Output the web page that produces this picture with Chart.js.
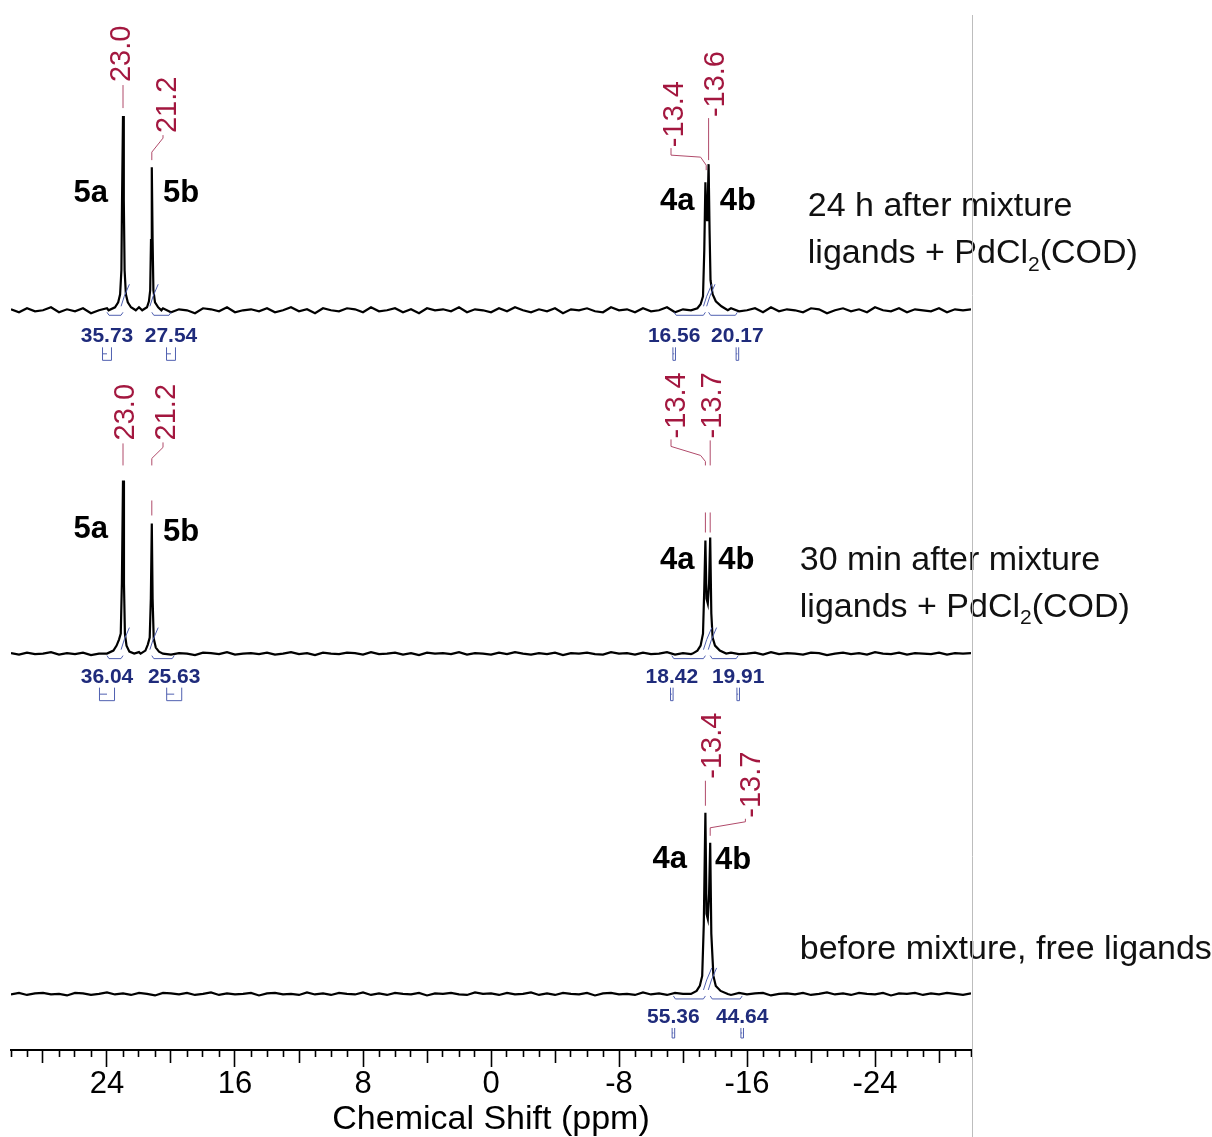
<!DOCTYPE html>
<html>
<head>
<meta charset="utf-8">
<script src="https://cdn.jsdelivr.net/npm/chart.js@4.4.1/dist/chart.umd.min.js"></script>
<style>
html,body{margin:0;padding:0;background:#fff;}
canvas{display:block;}
</style>
</head>
<body>
<canvas id="c" width="1212" height="1137"></canvas>
<script>
// ---------------- DATA ----------------
// x axis (ppm), reversed as in NMR
const axisMin = -30;
const axisMax = 30;
const tickLabelsPpm = [24, 16, 8, 0, -8, -16, -24];
const axisTitle = 'Chemical Shift (ppm)';

// peak chemical shifts (ppm) for each trace
const shiftsTop = [23.0, 21.2, -13.4, -13.6];
const shiftsMid = [23.0, 21.2, -13.4, -13.7];
const shiftsBot = [-13.4, -13.7];

// integrals for each trace (same order as shifts)
const integralsTop = [35.73, 27.54, 16.56, 20.17];
const integralsMid = [36.04, 25.63, 18.42, 19.91];
const integralsBot = [55.36, 44.64];

// compound labels
const compoundsTop = ['5a', '5b', '4a', '4b'];
const compoundsMid = ['5a', '5b', '4a', '4b'];
const compoundsBot = ['4a', '4b'];

// trace captions
const captionTop = ['24 h after mixture', 'ligands + PdCl_2(COD)'];
const captionMid = ['30 min after mixture', 'ligands + PdCl_2(COD)'];
const captionBot = ['before mixture, free ligands'];

// peak line shapes: [ppm, intensity above baseline]
const peak5Top_a = [[23.9,0],[23.5,3],[23.3,8],[23.18,16],[23.1,40],[23.06,110],[23.0,194],[22.95,110],[22.9,40],[22.82,16],[22.7,8],[22.5,3],[22.2,0]];
const peak5Top_b = [[21.8,0],[21.5,3],[21.38,9],[21.3,20],[21.25,70],[21.2,143],[21.15,70],[21.1,20],[21.0,8],[20.8,3],[20.6,0]];
const peak4Top = [[-12.5,0],[-12.9,2],[-13.1,6],[-13.25,14],[-13.33,60],[-13.4,128],[-13.45,95],[-13.5,90],[-13.55,110],[-13.6,146],[-13.66,80],[-13.72,30],[-13.85,16],[-14.05,9],[-14.4,4],[-14.8,0]];

const peak5Mid_a = [[24.0,0],[23.6,3],[23.4,8],[23.25,14],[23.14,20],[23.07,70],[23.0,173],[22.94,70],[22.88,20],[22.78,8],[22.6,2],[22.3,0]];
const peak5Mid_b = [[21.9,0],[21.6,3],[21.45,9],[21.33,16],[21.26,55],[21.2,130],[21.15,55],[21.08,15],[20.95,6],[20.75,2],[20.5,0]];
const peak4Mid = [[-12.6,0],[-12.9,3],[-13.1,8],[-13.25,20],[-13.33,65],[-13.4,113],[-13.47,55],[-13.55,50],[-13.63,70],[-13.7,116],[-13.77,40],[-13.85,16],[-14.0,8],[-14.3,3],[-14.7,0]];

const peak4Bot = [[-12.5,0],[-12.85,3],[-13.05,8],[-13.2,18],[-13.3,70],[-13.4,181],[-13.47,80],[-13.55,75],[-13.63,100],[-13.7,151],[-13.77,60],[-13.9,18],[-14.05,8],[-14.35,3],[-14.8,0]];

// baseline noise, sampled evenly from +30 to -30 ppm
const noiseTop = [
 1,-2, 2,-1, 0, 3,-2, 1,-1, 2,
-3, 0, 2,-1, 1,-2, 3, 0,-1, 2,
-2, 1, 0,-3, 2, 1,-1, 3,-2, 0,
 1,-1, 2,-2, 0, 3,-1, 1,-3, 2,
 0,-1, 2, 1,-2, 3,-1, 0, 2,-2,
 1,-3, 2, 0, 1,-1, 3,-2, 1, 0,
-2, 2,-1, 3, 0,-2, 1,-1, 2,-3,
 1, 0, 2,-1,-2, 3, 0, 1,-2, 2,
-1, 0, 3,-2, 1,-1, 2, 0,-3, 1,
 2,-1, 0, 2,-2, 3,-1, 1, 0,-2,
 2, 1,-3, 0, 2,-1, 1,-2, 3, 0,
-1, 2,-2, 1, 0,-1, 2,-2, 1, 0,
 1];
const noiseMid = [
 0.5,-1, 1,-0.5, 0, 1.5,-1, 0.5,-0.5, 1,
-1.5, 0, 1,-0.5, 0.5,-1, 1.5, 0,-0.5, 1,
-1, 0.5, 0,-1.5, 1, 0.5,-0.5, 1.5,-1, 0,
 0.5,-0.5, 1,-1, 0, 1.5,-0.5, 0.5,-1.5, 1,
 0,-0.5, 1, 0.5,-1, 1.5,-0.5, 0, 1,-1,
 0.5,-1.5, 1, 0, 0.5,-0.5, 1.5,-1, 0.5, 0,
-1, 1,-0.5, 1.5, 0,-1, 0.5,-0.5, 1,-1.5,
 0.5, 0, 1,-0.5,-1, 1.5, 0, 0.5,-1, 1,
-0.5, 0, 1.5,-1, 0.5,-0.5, 1, 0,-1.5, 0.5,
 1,-0.5, 0, 1,-1, 1.5,-0.5, 0.5, 0,-1,
 1, 0.5,-1.5, 0, 1,-0.5, 0.5,-1, 1.5, 0,
-0.5, 1,-1, 0.5, 0,-0.5, 1,-1, 0.5, 0,
 0.5];
const noiseBot = [
-0.5, 1,-1, 0.5, 1,-0.5, 0,-1.5, 1, 0.5,
-1, 0, 1.5,-0.5, 0.5,-1, 1, 0,-1.5, 1,
 0.5,-0.5, 1,-1, 0, 1.5,-1, 0.5,-0.5, 0,
 1,-1.5, 0.5, 1,-0.5, 0,-1, 1.5,-0.5, 0.5,
-1, 1, 0,-0.5, 1.5,-1, 0.5,-1, 1, 0,
-0.5, 1,-1.5, 0.5, 0, 1,-0.5,-1, 1.5, 0,
 0.5,-1, 1,-0.5, 0, 1.5,-1, 0.5,-1, 1,
 0,-0.5, 1,-1.5, 0.5, 1,-0.5, 0,-1, 1.5,
-0.5, 0.5,-1, 1, 0,-0.5, 1.5,-1, 0.5, 0,
-1, 1,-0.5, 0.5, 1,-1.5, 0, 0.5,-0.5, 1,
-1, 0, 1.5,-0.5, 0.5,-1, 1, 0,-0.5, 1,
-1.5, 0.5, 0, 1,-1, 0.5,-0.5, 1, 0,-1,
 0.5];

// ---------------- LAYOUT / STYLE ----------------
const stackOffsets = [739, 396, 56];   // vertical offset of each trace (y units)
const FONT = '"Liberation Sans", Arial, Helvetica, sans-serif';
const RED = '#a3173f';
const RED_LINE = '#b04a6a';
const NAVY = '#1f2b7b';
const BLUE_LINE = '#5060b0';

const shifts = [shiftsTop, shiftsMid, shiftsBot];
const integrals = [integralsTop, integralsMid, integralsBot];
const compounds = [compoundsTop, compoundsMid, compoundsBot];
const captions = [captionTop, captionMid, captionBot];

// red peak-label placement: tp = text ppm, tr = text bottom (rel. to baseline), connector paths
const peakLabelLayout = [
 {t:0,k:0,tp:23.06,tr:228,paths:[[[23.0,225],[23.0,202]]]},
 {t:0,k:1,tp:20.2,tr:177,paths:[[[20.5,175],[20.5,172],[21.2,158],[21.2,150]]]},
 {t:0,k:2,tp:-11.5,tr:163,paths:[[[-11.25,162],[-11.25,155],[-13.1,153],[-13.45,145],[-13.45,140]]]},
 {t:0,k:3,tp:-14.06,tr:193,paths:[[[-13.6,192],[-13.6,150]]]},
 {t:1,k:0,tp:22.8,tr:213,paths:[[[23.0,210],[23.0,188]]]},
 {t:1,k:1,tp:20.25,tr:213,paths:[[[20.5,211],[20.5,206],[21.2,195],[21.2,188]],[[21.2,153],[21.2,138]]]},
 {t:1,k:2,tp:-11.6,tr:215,paths:[[[-11.25,214],[-11.25,207],[-13.1,198],[-13.4,192],[-13.4,188]],[[-13.4,141],[-13.4,121]]]},
 {t:1,k:3,tp:-13.9,tr:215,paths:[[[-13.7,213],[-13.7,188]],[[-13.7,141],[-13.7,121]]]},
 {t:2,k:0,tp:-13.9,tr:215,paths:[[[-13.4,213],[-13.4,188]]]},
 {t:2,k:1,tp:-16.3,tr:176,paths:[[[-15.9,175],[-15.9,172],[-13.7,166],[-13.7,158]]]}
];
// compound label placement: p = left ppm, r = baseline rel.
const compoundLayout = [
 [{p:26.1,r:108},{p:20.5,r:108},{p:-10.56,r:100},{p:-14.3,r:100}],
 [{p:26.1,r:116},{p:20.5,r:113},{p:-10.56,r:85},{p:-14.2,r:85}],
 [{p:-10.1,r:126},{p:-14.0,r:125}]
];
// caption placement
const captionLayout = [{p:-19.8,r:94,gap:47},{p:-19.3,r:84,gap:47},{p:-19.3,r:35,gap:47}];
// integral label placement: p = label centre ppm, mw = marker half width ppm
const integralLayout = [
 [{p:24.0,mw:0.28},{p:20.0,mw:0.28},{p:-11.45,mw:0.08},{p:-15.4,mw:0.08}],
 [{p:24.0,mw:0.47},{p:19.8,mw:0.47},{p:-11.3,mw:0.08},{p:-15.45,mw:0.08}],
 [{p:-11.4,mw:0.08},{p:-15.7,mw:0.08}]
];
const integralRel = [{label:-32,mTop:-37,mBot:-50},{label:-29,mTop:-34,mBot:-47},{label:-29,mTop:-34,mBot:-44}];

// ---------------- BUILD DATASETS ----------------
function buildTrace(noise, profiles, offset) {
  const n = noise.length;
  const step = (axisMax - axisMin) / (n - 1);
  const ranges = profiles.map(p => [Math.min(...p.map(q => q[0])), Math.max(...p.map(q => q[0]))]);
  const pts = [];
  noise.forEach((v, i) => {
    const x = axisMax - i * step;
    if (ranges.some(r => x >= r[0] && x <= r[1])) return;
    pts.push({x: x, y: offset + v});
  });
  profiles.forEach(p => p.forEach(q => pts.push({x: q[0], y: offset + q[1]})));
  pts.sort((a, b) => b.x - a.x);
  return pts;
}
const traceData = [
  buildTrace(noiseTop, [peak5Top_a, peak5Top_b, peak4Top], stackOffsets[0]),
  buildTrace(noiseMid, [peak5Mid_a, peak5Mid_b, peak4Mid], stackOffsets[1]),
  buildTrace(noiseBot, [peak4Bot], stackOffsets[2])
];

// ---------------- ANNOTATION PLUGIN ----------------
function drawCaptionLine(ctx, str, x, y, size) {
  const parts = str.split(/_(\d)/);
  let cx = x;
  parts.forEach((s, i) => {
    if (!s) return;
    if (i % 2 === 1) {
      ctx.font = Math.round(size * 0.62) + 'px ' + FONT;
      ctx.fillText(s, cx, y + size * 0.22);
    } else {
      ctx.font = size + 'px ' + FONT;
      ctx.fillText(s, cx, y);
    }
    cx += ctx.measureText(s).width;
  });
}

const annotations = {
  id: 'annotations',
  afterDatasetsDraw(chart) {
    const ctx = chart.ctx;
    const xs = chart.scales.x, ys = chart.scales.y;
    const X = p => xs.getPixelForValue(p);
    const Y = (t, r) => ys.getPixelForValue(stackOffsets[t] + r);
    ctx.save();

    // integral curves (thin blue)
    ctx.strokeStyle = BLUE_LINE; ctx.lineWidth = 1;
    shifts.forEach((arr, t) => arr.forEach(s => {
      ctx.beginPath();
      ctx.moveTo(X(s + 0.12), Y(t, 4));
      ctx.lineTo(X(s - 0.08), Y(t, 14));
      ctx.lineTo(X(s - 0.4), Y(t, 26));
      ctx.stroke();
    }));

    // integral brackets, labels, markers
    integrals.forEach((arr, t) => arr.forEach((v, k) => {
      const L = integralLayout[t][k], R = integralRel[t];
      const xl = X(L.p), xp = X(shifts[t][k]);
      const yb = Y(t, -5);
      ctx.strokeStyle = BLUE_LINE; ctx.lineWidth = 1;
      ctx.beginPath();
      ctx.moveTo(xl, yb - 3); ctx.lineTo(xl + (xp > xl ? 2 : -2), yb);
      ctx.lineTo(xp + (xp > xl ? -2 : 2), yb); ctx.lineTo(xp, yb - 3);
      ctx.stroke();
      // marker
      const m1 = X(L.p + L.mw), m2 = X(L.p - L.mw);
      const mt = Y(t, R.mTop), mb = Y(t, R.mBot);
      ctx.beginPath();
      ctx.moveTo(m1, mt); ctx.lineTo(m1, mb); ctx.lineTo(m2, mb); ctx.lineTo(m2, mt);
      ctx.moveTo(m1, (mt + mb) / 2); ctx.lineTo(m1 + (m2 - m1) * 0.5, (mt + mb) / 2);
      ctx.stroke();
      // label
      ctx.fillStyle = NAVY;
      ctx.font = 'bold 21px ' + FONT;
      ctx.textAlign = 'center'; ctx.textBaseline = 'alphabetic';
      ctx.fillText(v.toFixed(2), xl, Y(t, R.label));
    }));

    // red peak labels
    peakLabelLayout.forEach(l => {
      ctx.strokeStyle = RED_LINE; ctx.lineWidth = 1;
      l.paths.forEach(path => {
        ctx.beginPath();
        path.forEach((q, i) => {
          const px = X(q[0]), py = Y(l.t, q[1]);
          if (i) ctx.lineTo(px, py); else ctx.moveTo(px, py);
        });
        ctx.stroke();
      });
      ctx.save();
      ctx.translate(X(l.tp), Y(l.t, l.tr));
      ctx.rotate(-Math.PI / 2);
      ctx.fillStyle = RED;
      ctx.font = '29px ' + FONT;
      ctx.textAlign = 'left'; ctx.textBaseline = 'middle';
      ctx.fillText(shifts[l.t][l.k].toFixed(1), 0, 0);
      ctx.restore();
    });

    // compound labels
    ctx.fillStyle = '#000';
    ctx.font = 'bold 31px ' + FONT;
    ctx.textAlign = 'left'; ctx.textBaseline = 'alphabetic';
    compounds.forEach((arr, t) => arr.forEach((c, k) => {
      const L = compoundLayout[t][k];
      ctx.fillText(c, X(L.p), Y(t, L.r));
    }));

    // captions
    captions.forEach((lines, t) => {
      const L = captionLayout[t];
      lines.forEach((s, i) => {
        ctx.fillStyle = '#111';
        ctx.textAlign = 'left'; ctx.textBaseline = 'alphabetic';
        drawCaptionLine(ctx, s, X(L.p), Y(t, L.r - i * L.gap), 34);
      });
    });

    // page edge line
    ctx.strokeStyle = '#bdbdbd'; ctx.lineWidth = 1;
    ctx.beginPath();
    ctx.moveTo(chart.chartArea.right + 1.5, chart.chartArea.top);
    ctx.lineTo(chart.chartArea.right + 1.5, chart.height);
    ctx.stroke();

    ctx.restore();
  }
};

// ---------------- CHART ----------------
new Chart(document.getElementById('c'), {
  type: 'line',
  data: {
    datasets: traceData.map(d => ({
      data: d,
      borderColor: '#000',
      borderWidth: 2.2,
      pointRadius: 0,
      tension: 0,
      fill: false
    }))
  },
  options: {
    responsive: false,
    devicePixelRatio: 1,
    animation: false,
    parsing: true,
    layout: {padding: {left: 11, right: 241, top: 15, bottom: 0}},
    plugins: {legend: {display: false}, tooltip: {enabled: false}},
    scales: {
      x: {
        type: 'linear',
        min: axisMin,
        max: axisMax,
        reverse: true,
        position: 'bottom',
        border: {display: true, color: '#000', width: 2},
        grid: {
          drawOnChartArea: false,
          drawTicks: true,
          tickLength: 17,
          tickColor: '#000',
          tickWidth: 1.6,
          tickBorderDash: ctx => {
            const v = ctx.tick ? Math.round(ctx.tick.value) : 0;
            if (v % 8 === 0) return [];
            if (v % 4 === 0) return [12, 60];
            return [6, 60];
          }
        },
        ticks: {
          stepSize: 1,
          autoSkip: false,
          includeBounds: false,
          maxRotation: 0,
          minRotation: 0,
          padding: 2,
          color: '#000',
          font: {family: FONT, size: 31, lineHeight: 1},
          callback: v => tickLabelsPpm.includes(v) ? String(v) : ''
        },
        title: {
          display: true,
          text: axisTitle,
          color: '#000',
          font: {family: FONT, size: 34, lineHeight: 1},
          padding: {top: 1, bottom: 0}
        }
      },
      y: {
        type: 'linear',
        display: false,
        min: 0,
        max: 1034
      }
    }
  },
  plugins: [annotations]
});
</script>
</body>
</html>
